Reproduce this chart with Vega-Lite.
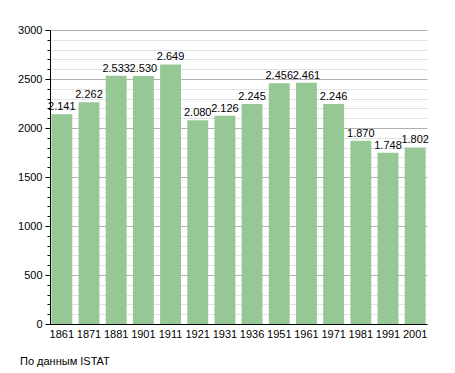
{
  "$schema": "https://vega.github.io/schema/vega-lite/v6.json",
  "width": 377,
  "height": 294,
  "autosize": {"type": "none"},
  "padding": {"left": 50, "top": 30, "right": 28, "bottom": 49},
  "background": "white",
  "config": {
    "view": {"stroke": null},
    "font": "Liberation Sans",
    "locale": {"number": {"decimal": ",", "thousands": ".", "grouping": [3], "currency": ["", "€"]}}
  },
  "title": {
    "text": "По данным  ISTAT",
    "orient": "bottom",
    "anchor": "start",
    "frame": "group",
    "dx": -30,
    "offset": 17,
    "fontSize": 11,
    "fontWeight": "normal",
    "color": "black",
    "font": "Liberation Sans"
  },
  "data": {
    "values": [
      {"year": "1861", "pop": 2141},
      {"year": "1871", "pop": 2262},
      {"year": "1881", "pop": 2533},
      {"year": "1901", "pop": 2530},
      {"year": "1911", "pop": 2649},
      {"year": "1921", "pop": 2080},
      {"year": "1931", "pop": 2126},
      {"year": "1936", "pop": 2245},
      {"year": "1951", "pop": 2456},
      {"year": "1961", "pop": 2461},
      {"year": "1971", "pop": 2246},
      {"year": "1981", "pop": 1870},
      {"year": "1991", "pop": 1748},
      {"year": "2001", "pop": 1802}
    ]
  },
  "encoding": {
    "x": {
      "field": "year",
      "type": "nominal",
      "sort": null,
      "scale": {"paddingInner": 0.23, "paddingOuter": 0.05},
      "axis": {
        "title": null,
        "labelAngle": 0,
        "ticks": false,
        "domainColor": "black",
        "domainWidth": 1,
        "labelFontSize": 11,
        "labelColor": "black",
        "labelPadding": 4,
        "grid": false
      }
    },
    "y": {
      "field": "pop",
      "type": "quantitative",
      "scale": {"domain": [0, 3000], "nice": false},
      "axis": {
        "title": null,
        "values": [0,100,200,300,400,500,600,700,800,900,1000,1100,1200,1300,1400,1500,1600,1700,1800,1900,2000,2100,2200,2300,2400,2500,2600,2700,2800,2900,3000],
        "format": "d",
        "labelExpr": "datum.value % 500 === 0 ? datum.label : ''",
        "grid": true,
        "gridColor": {"condition": {"test": "datum.value % 500 === 0", "value": "#b0b0b0"}, "value": "#e2e2e2"},
        "gridWidth": 1,
        "tickColor": "black",
        "tickSize": {"condition": {"test": "datum.value % 500 === 0", "value": 5}, "value": 3},
        "domainColor": "black",
        "labelFontSize": 11,
        "labelColor": "black",
        "labelPadding": 3
      }
    }
  },
  "layer": [
    {"mark": {"type": "bar", "color": "#96c896"}},
    {
      "mark": {"type": "text", "baseline": "bottom", "dy": -2, "fontSize": 11, "color": "black", "font": "Liberation Sans"},
      "encoding": {"text": {"field": "pop", "type": "quantitative", "format": ",d"}}
    }
  ]
}
